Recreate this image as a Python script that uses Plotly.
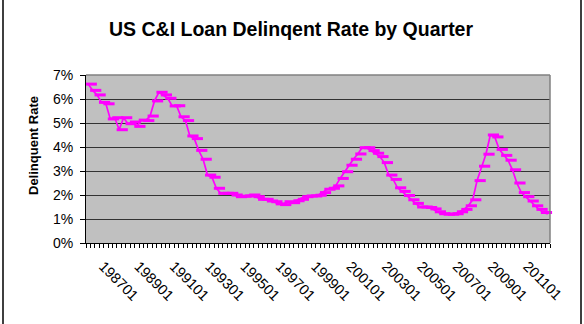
import plotly.graph_objects as go

# US C&I loan delinquency rate (%), quarterly from 1987Q1
rate = [6.62, 6.36, 6.17, 5.86, 5.80, 5.17, 5.22, 4.72, 5.22, 4.97,
        5.04, 4.86, 5.12, 5.10, 5.29, 5.92, 6.28, 6.17, 6.03, 5.71,
        5.72, 5.26, 5.10, 4.46, 4.35, 3.86, 3.49, 2.83, 2.74, 2.28,
        2.07, 2.07, 2.07, 2.00, 1.93, 1.95, 1.96, 2.00, 1.93, 1.82,
        1.82, 1.75, 1.72, 1.63, 1.60, 1.72, 1.68, 1.76, 1.82, 1.93,
        1.96, 1.96, 1.99, 2.10, 2.24, 2.28, 2.38, 2.69, 2.97, 3.24,
        3.49, 3.71, 3.97, 3.97, 3.85, 3.74, 3.60, 3.35, 2.83, 2.65,
        2.30, 2.15, 1.98, 1.80, 1.65, 1.50, 1.50, 1.48, 1.42, 1.30,
        1.22, 1.20, 1.20, 1.22, 1.30, 1.40, 1.55, 1.80, 2.60, 3.20,
        3.70, 4.50, 4.42, 3.90, 3.65, 3.45, 3.05, 2.50, 2.10, 1.93,
        1.75, 1.55, 1.40, 1.27, 1.21]

quarters = [f"{y}{q:02d}" for y in range(1987, 2014) for q in range(1, 5)][:len(rate)]

tick_labels = ["198701", "198901", "199101", "199301", "199501", "199701",
               "199901", "200101", "200301", "200501", "200701", "200901",
               "201101"]

y_ticks = [0, 1, 2, 3, 4, 5, 6, 7]

idx = list(range(len(rate)))
label_pos = [quarters.index(t) for t in tick_labels]
MAG = "#FF00FF"
FONT = "Arial, Liberation Sans, sans-serif"
LABEL_SHIFT = 3.4  # visual offset of rotated labels (in categories)

fig = go.Figure()
fig.add_trace(go.Scatter(x=idx, y=rate, mode="lines",
                         line=dict(color=MAG, width=1.7),
                         hoverinfo="skip", showlegend=False,
                         xaxis="x", yaxis="y"))
fig.add_trace(go.Scatter(x=[i + 0.7 for i in idx], y=rate, mode="markers",
                         marker=dict(symbol="line-ew", size=8,
                                     line=dict(color=MAG, width=3)),
                         cliponaxis=False, text=quarters,
                         showlegend=False, xaxis="x2", yaxis="y"))

n = len(rate)
fig.update_layout(
    width=584, height=324,
    margin=dict(l=86, r=34, t=75, b=81, pad=0),
    paper_bgcolor="white", plot_bgcolor="#C0C0C0",
    font=dict(family=FONT, color="black"),
    xaxis=dict(range=[-0.5, n - 0.5],
               tickmode="array", tickvals=[i - 0.5 for i in range(n + 1)],
               ticks="outside", ticklen=4, tickwidth=1, tickcolor="black",
               showticklabels=False, showline=True, linecolor="black",
               linewidth=1, showgrid=False, zeroline=False),
    xaxis2=dict(range=[-0.5, n - 0.5], overlaying="x", side="bottom",
                tickmode="array", tickvals=[p + LABEL_SHIFT for p in label_pos],
                ticktext=tick_labels,
                tickangle=45, ticks="", showline=False, showgrid=False,
                zeroline=False, tickfont=dict(size=14.5, family=FONT, color="black"),
                ticklabelstandoff=11),
    yaxis=dict(range=[0, 7], tickmode="array", tickvals=y_ticks,
               ticktext=[f"{v}%" for v in y_ticks],
               ticks="outside", ticklen=5, tickcolor="black",
               showline=True, linecolor="black", linewidth=1,
               showgrid=True, gridcolor="#333333", gridwidth=1,
               zeroline=False, tickfont=dict(size=14, family=FONT, color="black"),
               ticklabelstandoff=4),
    shapes=[
        dict(type="line", xref="paper", yref="paper", x0=0, x1=1, y0=1, y1=1,
             line=dict(color="#808080", width=1.5)),
        dict(type="line", xref="paper", yref="paper", x0=1, x1=1, y0=0, y1=1,
             line=dict(color="#808080", width=1.5)),
        dict(type="rect", xref="paper", yref="paper",
             x0=(3 - 86) / 464, x1=(581 - 86) / 464,
             y0=(243 - 326) / 168, y1=(243 + 2) / 168,
             line=dict(color="black", width=1.5)),
    ],
    annotations=[
        dict(text="<b>US C&I Loan Delinqent Rate by Quarter</b>",
             xref="paper", yref="paper", x=(291 - 86) / 464, y=(243 - 29) / 168,
             xanchor="center", yanchor="middle", showarrow=False,
             font=dict(size=19.5, family=FONT, color="black")),
        dict(text="<b>Delinquent Rate</b>", textangle=-90,
             xref="paper", yref="paper", x=(33 - 86) / 464, y=(243 - 146) / 168,
             xanchor="center", yanchor="middle", showarrow=False,
             font=dict(size=13, family=FONT, color="black")),
    ],
)

fig.write_html("out.html")
